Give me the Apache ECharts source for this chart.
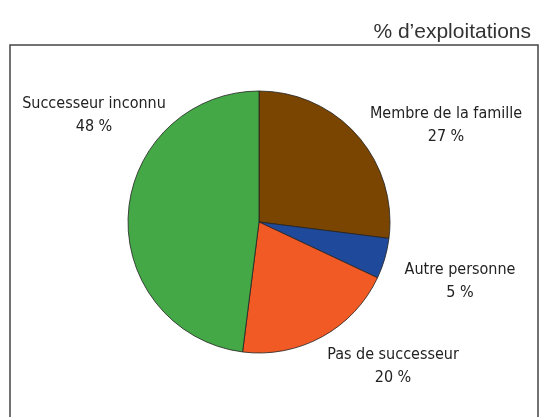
<!DOCTYPE html>
<html>
<head>
<meta charset="utf-8">
<script src="https://cdn.jsdelivr.net/npm/echarts@6/dist/echarts.min.js"></script>
<style>
  html, body { margin: 0; padding: 0; background: #fff; }
  #chart { width: 542px; height: 417px; }
</style>
</head>
<body>
<div id="chart"></div>
<script>
  // données
  var categories = ['Membre de la famille', 'Autre personne', 'Pas de successeur', 'Successeur inconnu'];
  var values = [27, 5, 20, 48];
  var colors = ['#7a4500', '#1f4a9c', '#f15a24', '#43a845'];
  var unit = '% d\u2019exploitations';

  // position des étiquettes (centre du texte)
  var labelPos = [[446, 125], [460, 281], [393, 366], [94, 115]];

  var chart = echarts.init(document.getElementById('chart'));
  chart.setOption({
    animation: false,
    graphic: [
      {
        type: 'rect',
        shape: { x: 10, y: 45, width: 528, height: 380 },
        style: { fill: 'none', stroke: '#444', lineWidth: 1.5 }
      },
      {
        type: 'text',
        right: 11,
        top: 22,
        style: {
          text: unit,
          fill: '#333',
          font: '21px "Liberation Sans", Arial, sans-serif'
        }
      }
    ],
    series: [
      {
        type: 'pie',
        center: [259, 222],
        radius: 131,
        startAngle: 90,
        clockwise: true,
        itemStyle: { borderColor: '#222', borderWidth: 0.8 },
        label: {
          show: true,
          position: 'outside',
          formatter: function (p) { return p.name + '\n' + p.value + ' %'; },
          align: 'center',
          overflow: 'none',
          width: 200,
          fontFamily: '"Liberation Sans Narrow", "DejaVu Sans Condensed", sans-serif',
          fontSize: 16,
          lineHeight: 23,
          color: '#222'
        },
        labelLine: { show: false },
        labelLayout: function (p) {
          var pos = labelPos[p.dataIndex];
          return { x: pos[0], y: pos[1], align: 'center', verticalAlign: 'middle' };
        },
        emphasis: { disabled: true },
        data: categories.map(function (c, i) {
          return { name: c, value: values[i], itemStyle: { color: colors[i] } };
        })
      }
    ]
  });
</script>
</body>
</html>
